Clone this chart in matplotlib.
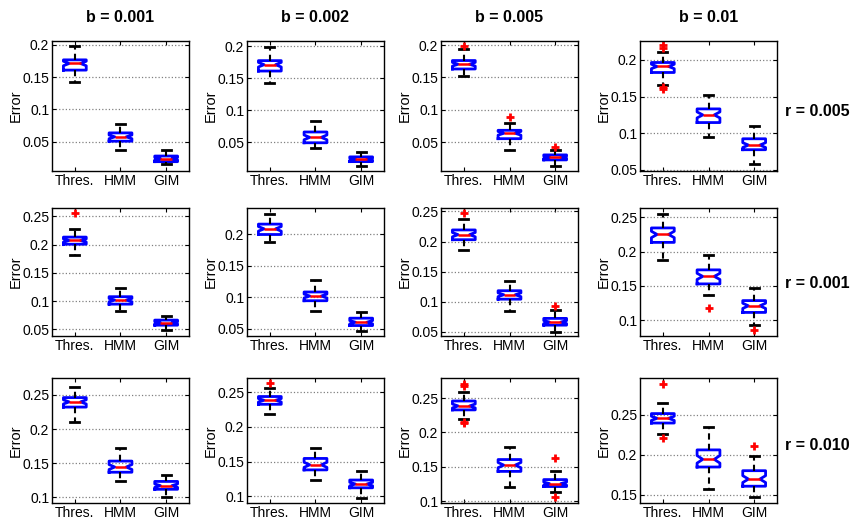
import matplotlib
matplotlib.use('Agg')
import matplotlib.pyplot as plt

plt.rcParams['font.family'] = ['Liberation Sans', 'DejaVu Sans']

# --- data (rows: r values, cols: b values, per method) ---
METHODS = ['Thres.', 'HMM', 'GIM']
B_TITLES = ['b = 0.001', 'b = 0.002', 'b = 0.005', 'b = 0.01']
R_LABELS = ['r = 0.005', 'r = 0.001', 'r = 0.010']

MED = [
    [[0.1709, 0.0577, 0.0240], [0.1711, 0.0578, 0.0237], [0.1704, 0.0640, 0.0271], [0.1910, 0.1250, 0.0839]],
    [[0.2074, 0.1017, 0.0614], [0.2085, 0.1018, 0.0602], [0.2114, 0.1117, 0.0664], [0.2248, 0.1638, 0.1210]],
    [[0.2399, 0.1445, 0.1172], [0.2383, 0.1453, 0.1176], [0.2385, 0.1526, 0.1258], [0.2458, 0.1945, 0.1698]],
]
Q1 = [
    [[0.1607, 0.0510, 0.0194], [0.1612, 0.0494, 0.0200], [0.1631, 0.0557, 0.0230], [0.1828, 0.1146, 0.0776]],
    [[0.2008, 0.0945, 0.0572], [0.1995, 0.0943, 0.0549], [0.2030, 0.1044, 0.0613], [0.2133, 0.1529, 0.1114]],
    [[0.2323, 0.1369, 0.1119], [0.2325, 0.1380, 0.1122], [0.2328, 0.1435, 0.1215], [0.2399, 0.1849, 0.1609]],
]
Q3 = [
    [[0.1765, 0.0638, 0.0281], [0.1774, 0.0662, 0.0274], [0.1761, 0.0686, 0.0307], [0.1964, 0.1332, 0.0925]],
    [[0.2134, 0.1077, 0.0662], [0.2160, 0.1082, 0.0666], [0.2192, 0.1184, 0.0725], [0.2343, 0.1733, 0.1286]],
    [[0.2462, 0.1532, 0.1234], [0.2437, 0.1545, 0.1234], [0.2457, 0.1607, 0.1316], [0.2517, 0.2063, 0.1803]],
]
WHIS_LO = [
    [[0.1418, 0.0378, 0.0153], [0.1428, 0.0416, 0.0133], [0.1522, 0.0390, 0.0136], [0.1657, 0.0948, 0.0582]],
    [[0.1809, 0.0818, 0.0488], [0.1872, 0.0778, 0.0469], [0.1856, 0.0848, 0.0507], [0.1876, 0.1362, 0.0938]],
    [[0.2107, 0.1244, 0.1000], [0.2179, 0.1234, 0.0981], [0.2194, 0.1215, 0.1129], [0.2256, 0.1576, 0.1479]],
]
WHIS_HI = [
    [[0.1974, 0.0781, 0.0372], [0.1990, 0.0830, 0.0347], [0.1933, 0.0806, 0.0390], [0.2108, 0.1526, 0.1101]],
    [[0.2272, 0.1239, 0.0728], [0.2326, 0.1280, 0.0762], [0.2371, 0.1352, 0.0859], [0.2548, 0.1948, 0.1467]],
    [[0.2620, 0.1723, 0.1325], [0.2558, 0.1702, 0.1370], [0.2586, 0.1784, 0.1435], [0.2651, 0.2345, 0.1983]],
]
# outliers per panel (row, col) -> one list per method
FLIERS = {
    (0, 2): [[0.1979], [0.0889], [0.0422]],
    (0, 3): [[0.2199, 0.2163, 0.1625, 0.1598], [], []],
    (1, 0): [[0.256], [], []],
    (1, 2): [[0.2478], [], [0.0927]],
    (1, 3): [[], [0.1176], [0.0857]],
    (2, 1): [[0.2636], [], []],
    (2, 2): [[0.271, 0.2681, 0.2156, 0.2137], [], [0.1631, 0.1062]],
    (2, 3): [[0.2891, 0.221], [], [0.2109]],
}
Y_LIMITS = [
    [(0.0050, 0.2056), (0.0054, 0.2080), (0.0059, 0.2062), (0.0486, 0.2257)],
    [(0.0380, 0.2650), (0.0383, 0.2416), (0.0433, 0.2556), (0.0771, 0.2633)],
    [(0.0918, 0.2749), (0.0903, 0.2704), (0.0976, 0.2791), (0.1399, 0.2962)],
]
Y_TICKS = [
    [[0.05, 0.1, 0.15, 0.2]] * 4,
    [[0.05, 0.1, 0.15, 0.2, 0.25], [0.05, 0.1, 0.15, 0.2], [0.05, 0.1, 0.15, 0.2, 0.25], [0.1, 0.15, 0.2, 0.25]],
    [[0.1, 0.15, 0.2, 0.25]] * 3 + [[0.15, 0.2, 0.25]],
]

# layout in pixels (854 x 520 figure)
FIG_W, FIG_H = 854, 520
COL_LEFT = [52, 247, 441, 640]
ROW_TOP = [41, 208, 378]
ROW_H = [130, 128, 125]
AX_W = 137
R_LABEL_Y = [111, 283, 445]


def make_stats(r, c):
    stats = []
    fl = FLIERS.get((r, c), [[], [], []])
    for m in range(3):
        med = MED[r][c][m]
        q1, q3 = Q1[r][c][m], Q3[r][c][m]
        half = 0.22 * (q3 - q1)
        stats.append(dict(med=med, q1=q1, q3=q3,
                          whislo=WHIS_LO[r][c][m], whishi=WHIS_HI[r][c][m],
                          cilo=med - half, cihi=med + half,
                          fliers=fl[m], label=METHODS[m]))
    return stats


fig = plt.figure(figsize=(FIG_W / 100, FIG_H / 100), dpi=100)

for r in range(3):
    for c in range(4):
        left = COL_LEFT[c] / FIG_W
        bottom = 1 - (ROW_TOP[r] + ROW_H[r]) / FIG_H
        ax = fig.add_axes([left, bottom, AX_W / FIG_W, ROW_H[r] / FIG_H])

        ax.bxp(make_stats(r, c), positions=[1, 2, 3], widths=0.5, capwidths=0.2,
               shownotches=True,
               boxprops=dict(color='#0000ff', linewidth=2.0),
               medianprops=dict(color='#ff0000', linewidth=1.8),
               whiskerprops=dict(color='black', linewidth=1.5, linestyle=(0, (3, 2))),
               capprops=dict(color='black', linewidth=2.0),
               flierprops=dict(marker='+', markeredgecolor='#ff0000',
                               markersize=6, markeredgewidth=2.0))

        ax.set_xlim(0.5, 3.5)
        ax.set_ylim(*Y_LIMITS[r][c])
        ticks = Y_TICKS[r][c]
        ax.set_yticks(ticks)
        ax.set_yticklabels([f'{t:g}' for t in ticks])
        ax.set_xticks([1, 2, 3])
        ax.set_xticklabels(METHODS)
        ax.yaxis.grid(True, linestyle=':', color='#808080', linewidth=0.9)
        ax.set_axisbelow(True)
        ax.tick_params(direction='in', length=3, width=0.8, labelsize=10,
                       top=True, right=True, pad=2)
        ax.tick_params(axis='x', pad=2)
        for sp in ax.spines.values():
            sp.set_linewidth(1.0)

        ax.set_ylabel('Error', fontsize=10.5)
        ax.yaxis.set_label_coords(-29 / AX_W, 0.5)

        if r == 0:
            ax.set_title(B_TITLES[c], fontsize=11.5, fontweight='bold', pad=14)

for r in range(3):
    fig.text(785 / FIG_W, 1 - R_LABEL_Y[r] / FIG_H, R_LABELS[r], fontsize=11.5,
             fontweight='bold', ha='left', va='center')

fig.savefig('out.png', dpi=100)
